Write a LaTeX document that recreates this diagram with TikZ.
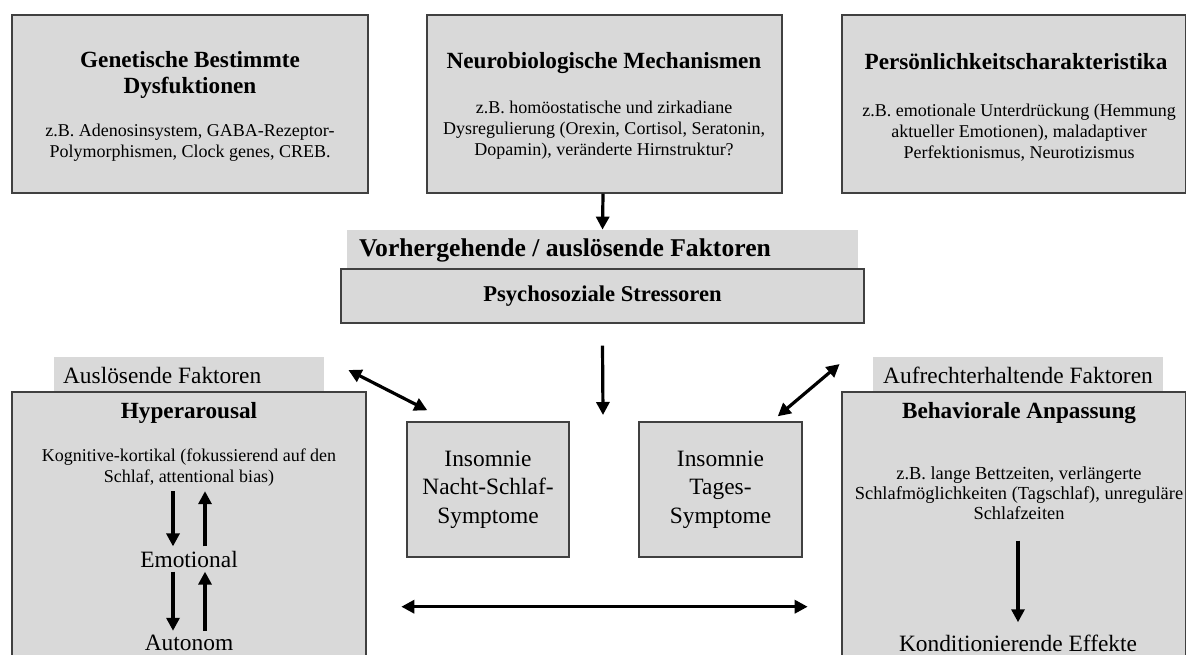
\documentclass[tikz,border=0pt]{standalone}
\usepackage{fontspec}
\setmainfont{Liberation Serif}
\usetikzlibrary{arrows.meta, positioning}
\definecolor{boxgrey}{HTML}{D9D9D9}
\definecolor{edgegrey}{HTML}{404040}
\tikzstyle{box} = [rectangle, draw=edgegrey, fill=boxgrey, line width=0.7pt, inner sep=0pt]
\tikzstyle{band} = [rectangle, fill=boxgrey, inner sep=0pt]
\tikzstyle{title} = [align=center, font=\bfseries\fontsize{11.6}{13}\selectfont]
\tikzstyle{body} = [align=center, font=\fontsize{9}{10.5}\selectfont]
\tikzstyle{big} = [align=center, font=\fontsize{11.7}{14.2}\selectfont]
\tikzstyle{arrow} = [line width=1.6pt, -{Triangle[length=6.5pt, width=6.5pt]}]
\tikzstyle{darrow} = [line width=1.6pt, {Triangle[length=6.5pt, width=6.5pt]}-{Triangle[length=6.5pt, width=6.5pt]}]

\begin{document}
\begin{tikzpicture}[x=0.5pt, y=-0.5pt]
\useasboundingbox (0,0) rectangle (1186,654);
\clip (0,0) rectangle (1186,654);

% Top row
\node[box, minimum width=178pt, minimum height=89pt] (gen) at (190,104) {};
\node[title] (gentitle) at (190,75) {Genetische Bestimmte\\Dysfuktionen};
\node[body] (genbody) at (190,143) {z.B. Adenosinsystem, GABA-Rezeptor-\\Polymorphismen, Clock genes, CREB.};

\node[box, minimum width=177.5pt, minimum height=89pt] (neuro) at (604.5,104) {};
\node[title] (neurotitle) at (604,63) {Neurobiologische Mechanismen};
\node[body] (neurobody) at (604,130) {z.B. homöostatische und zirkadiane\\Dysregulierung (Orexin, Cortisol, Seratonin,\\Dopamin), veränderte Hirnstruktur?};

\node[box, minimum width=172pt, minimum height=89pt] (pers) at (1014,104) {};
\node[title] (perstitle) at (1016,62) {Persönlichkeitscharakteristika};
\node[body] (persbody) at (1019,133) {z.B. emotionale Unterdrückung (Hemmung\\aktueller Emotionen), maladaptiver\\Perfektionismus, Neurotizismus};

% Middle
\node[band, minimum width=255.5pt, minimum height=19.5pt] (vorher) at (602.5,249.5) {};
\node[anchor=west, font=\bfseries\fontsize{12.8}{15}\selectfont] (vorhertext) at (352,250) {Vorhergehende / auslösende Faktoren};
\node[box, minimum width=261.5pt, minimum height=27pt, font=\bfseries\fontsize{11.3}{13}\selectfont] (stress) at (602.5,296) {Psychosoziale Stressoren};
\coordinate (mid) at (603,415);

% Left side
\node[band, minimum width=135pt, minimum height=17.5pt] (ausl) at (189,374.5) {};
\node[anchor=west, big] (ausltext) at (56,375) {Auslösende Faktoren};
\node[box, minimum width=177pt, minimum height=154pt] (hyper) at (189,546) {};
\node[title] (hypertitle) at (189,413) {Hyperarousal};
\node[body, inner sep=2pt] (kog) at (189,468) {Kognitive-kortikal (fokussierend auf den\\Schlaf, attentional bias)};
\node[big, inner sep=2pt] (emo) at (189,559) {Emotional};
\node[big, inner sep=2pt] (auto) at (189,643) {Autonom};

% Centre boxes
\node[box, minimum width=81pt, minimum height=67.5pt, big] (nacht) at (488,489.5) {Insomnie\\Nacht-Schlaf-\\Symptome};
\node[box, minimum width=81.5pt, minimum height=67.5pt, big] (tages) at (720.5,489.5) {Insomnie\\Tages-\\Symptome};

% Right side
\node[band, minimum width=145pt, minimum height=18pt, big] (aufr) at (1018,375) {Aufrechterhaltende Faktoren};
\node[box, minimum width=172pt, minimum height=154pt] (behav) at (1014,546) {};
\node[title] (behavtitle) at (1019,413) {Behaviorale Anpassung};
\node[body, font=\fontsize{9.2}{10}\selectfont] (behavbody) at (1019,493) {z.B. lange Bettzeiten, verlängerte\\Schlafmöglichkeiten (Tagschlaf), unreguläre\\Schlafzeiten};
\node[big, inner sep=2pt] (kond) at (1018,643) {Konditionierende Effekte};

% Arrows
\draw[arrow] ([xshift=-0.75pt]neuro.south) -- (vorher.north);
\draw[arrow] ([yshift=-11pt]stress.south) -- (mid);
\draw[darrow] ([shift={(24,-4.5)}]ausl.east) -- ([shift={(21,-11)}]nacht.north west);
\draw[darrow] ([shift={(-25,-5)}]tages.north east) -- ([shift={(-33,-11)}]aufr.west);
\draw[darrow] ([shift={(-5,49)}]nacht.south west) -- ([shift={(5,49)}]tages.south east);
\draw[arrow] ([xshift=-8pt]kog.south) -- ([xshift=-8pt]emo.north);
\draw[arrow] ([xshift=8pt]emo.north) -- ([xshift=8pt]kog.south);
\draw[arrow] ([xshift=-8pt]emo.south) -- ([xshift=-8pt]auto.north);
\draw[arrow] ([xshift=8pt]auto.north) -- ([xshift=8pt]emo.south);
\draw[arrow] ([xshift=-0.5pt, yshift=-7pt]behavbody.south) -- ([yshift=4pt]kond.north);

\end{tikzpicture}
\end{document}
